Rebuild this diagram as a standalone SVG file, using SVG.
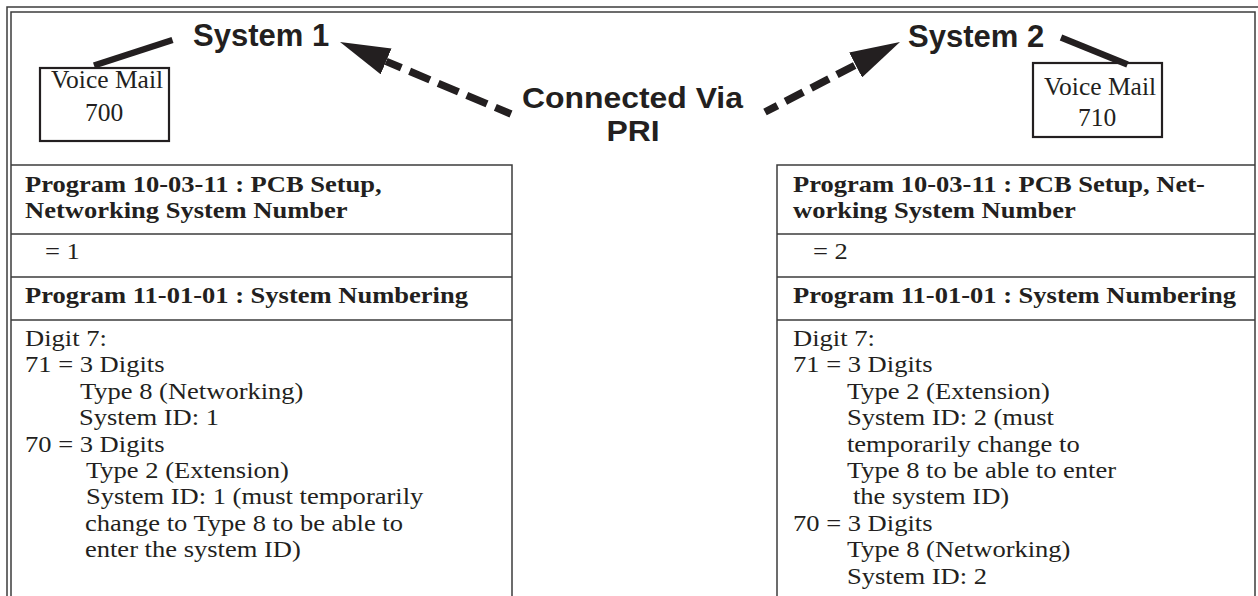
<svg xmlns="http://www.w3.org/2000/svg" width="1258" height="596" viewBox="0 0 1258 596">
<defs>
<style>
.frame{stroke:#3c3c3c;stroke-width:1.5;fill:none}
.tline{stroke:#3c3c3c;stroke-width:1.5;fill:none}
.vm{stroke:#231f20;stroke-width:2.2;fill:#fff}
.sans{font-family:"Liberation Sans",Arial,sans-serif;font-weight:bold;fill:#231f20}
.ser{font-family:"Liberation Serif","Times New Roman",serif;fill:#231f20;font-size:23.8px}
.serb{font-family:"Liberation Serif","Times New Roman",serif;font-weight:bold;fill:#231f20;font-size:23.8px}
.vmt{font-family:"Liberation Serif","Times New Roman",serif;fill:#231f20;font-size:25.5px;text-anchor:middle}
.dash{stroke:#231f20;stroke-width:7.5;fill:none;stroke-linecap:butt}
.solid{stroke:#231f20;stroke-width:6.5;fill:none;stroke-linecap:butt}
</style>
<marker id="ah" viewBox="0 -14 50 28" markerWidth="50" markerHeight="28" refX="0" refY="0" orient="auto" markerUnits="userSpaceOnUse">
<path d="M0,-14 L50,0 L0,14 Z" fill="#231f20"/>
</marker>
</defs>
<rect x="0" y="0" width="1258" height="596" fill="#fff"/>
<g id="frame">
<path class="frame" d="M7,600 V7 H1260"/>
<path class="frame" d="M11,600 V12 H1255 V600"/>
</g>
<g id="system1"><text class="sans" x="193" y="46" font-size="31">System 1</text></g>
<g id="system2"><text class="sans" x="908" y="46.5" font-size="31">System 2</text></g>
<g id="link-label" transform="translate(632.5,0) scale(1.1,1)"><text class="sans" font-size="29" text-anchor="middle"><tspan x="0" y="108">Connected Via</tspan><tspan x="0.5" y="140.6">PRI</tspan></text></g>
<g id="vm700">
<rect class="vm" x="40" y="68" width="129" height="73"/>
<text class="vmt"><tspan x="107" y="88">Voice Mail</tspan><tspan x="104" y="121">700</tspan></text>
</g>
<g id="vm710">
<rect class="vm" x="1033" y="63" width="129" height="74"/>
<text class="vmt"><tspan x="1100" y="95">Voice Mail</tspan><tspan x="1097" y="126">710</tspan></text>
</g>
<g id="connectors">
<line class="solid" x1="94" y1="65.5" x2="172.5" y2="40"/>
<line class="solid" x1="1061" y1="37.5" x2="1127.5" y2="64.5"/>
<line class="dash" x1="511" y1="114" x2="386.1" y2="61.4" stroke-dasharray="22 9" stroke-dashoffset="5" marker-end="url(#ah)"/>
<line class="dash" x1="765" y1="112" x2="855.6" y2="65" stroke-dasharray="20 9" stroke-dashoffset="6" marker-end="url(#ah)"/>
</g>
<g id="table1">
<path class="tline" d="M11,165 H512 V600 M11,234 H512 M11,277 H512 M11,320 H512"/>
<g transform="translate(25,0) scale(1.115,1)">
<text class="serb"><tspan x="0" y="191.7">Program 10-03-11 : PCB Setup,</tspan><tspan x="0" y="218.3">Networking System Number</tspan></text>
<text class="ser" x="17.9" y="259.3">= 1</text>
<text class="serb" x="0" y="303.3">Program 11-01-01 : System Numbering</text>
<text class="ser">
<tspan x="0" y="346">Digit 7:</tspan>
<tspan x="0" y="372.4">71 = 3 Digits</tspan>
<tspan x="49.3" y="398.8">Type 8 (Networking)</tspan>
<tspan x="48.4" y="425.2">System ID: 1</tspan>
<tspan x="0" y="451.6">70 = 3 Digits</tspan>
<tspan x="54.7" y="478">Type 2 (Extension)</tspan>
<tspan x="54.7" y="504.4">System ID: 1 (must temporarily</tspan>
<tspan x="53.8" y="530.8">change to Type 8 to be able to</tspan>
<tspan x="53.8" y="557.2">enter the system ID)</tspan>
</text>
</g>
</g>
<g id="table2">
<path class="tline" d="M777,600 V165 H1255 M777,234 H1255 M777,277 H1255 M777,320 H1255"/>
<g transform="translate(793,0) scale(1.115,1)">
<text class="serb"><tspan x="0" y="191.7">Program 10-03-11 : PCB Setup, Net-</tspan><tspan x="0" y="218.3">working System Number</tspan></text>
<text class="ser" x="17.9" y="259.3">= 2</text>
<text class="serb" x="0" y="303.3">Program 11-01-01 : System Numbering</text>
<text class="ser">
<tspan x="0" y="346">Digit 7:</tspan>
<tspan x="0" y="372.4">71 = 3 Digits</tspan>
<tspan x="48.4" y="398.8">Type 2 (Extension)</tspan>
<tspan x="48.4" y="425.2">System ID: 2 (must</tspan>
<tspan x="48.4" y="451.6">temporarily change to</tspan>
<tspan x="48.4" y="478">Type 8 to be able to enter</tspan>
<tspan x="53.8" y="504.4">the system ID)</tspan>
<tspan x="0" y="530.8">70 = 3 Digits</tspan>
<tspan x="48.4" y="557.2">Type 8 (Networking)</tspan>
<tspan x="48.4" y="583.6">System ID: 2</tspan>
</text>
</g>
</g>
</svg>
